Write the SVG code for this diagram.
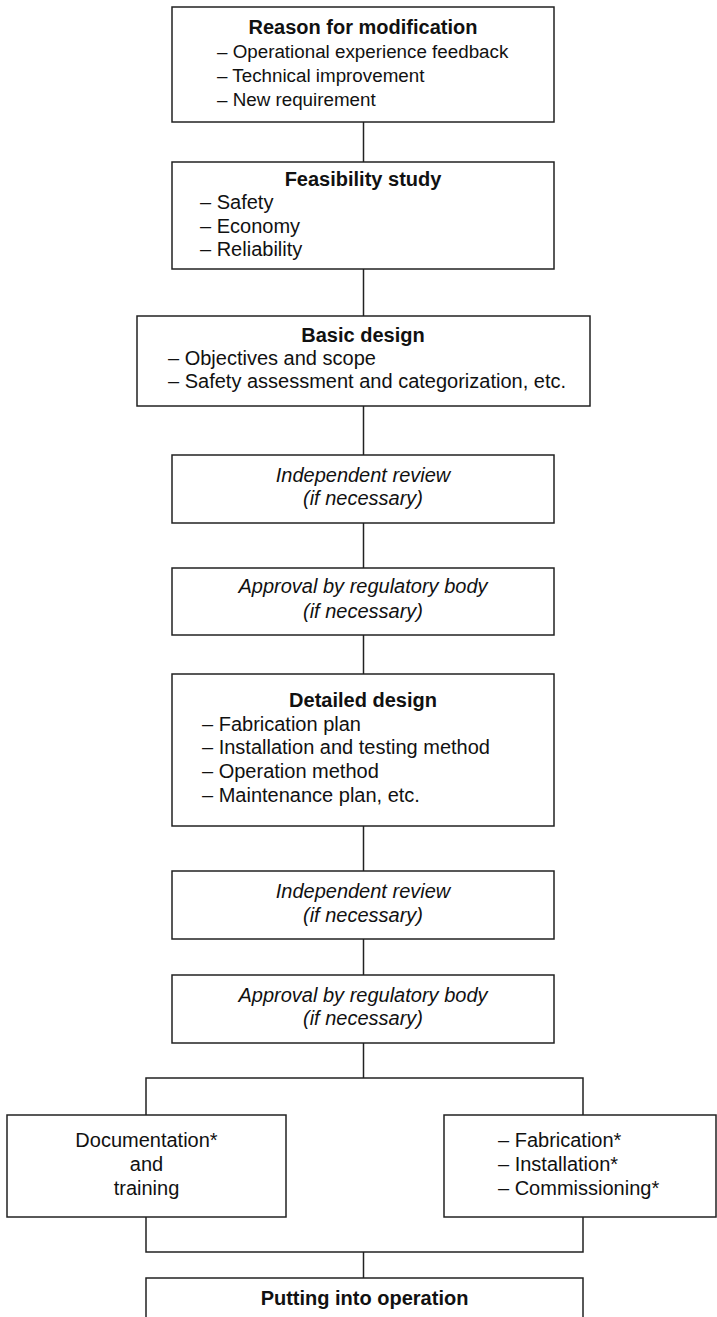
<svg xmlns="http://www.w3.org/2000/svg" width="717" height="1317" viewBox="0 0 717 1317">
<style>
.box{fill:#fff;stroke:#222;stroke-width:1.5}
.conn{fill:none;stroke:#222;stroke-width:1.5}
text{font-family:"Liberation Sans",Arial,sans-serif;font-size:20px;fill:#111}
.b{font-weight:bold}
.i{font-style:italic}
.c{text-anchor:middle}
.s{font-size:18.8px}
</style>
<rect width="717" height="1317" fill="#fff"/>
<g id="connectors">
<line class="conn" x1="363.5" y1="122" x2="363.5" y2="162"/>
<line class="conn" x1="363.5" y1="269" x2="363.5" y2="316"/>
<line class="conn" x1="363.5" y1="406" x2="363.5" y2="455"/>
<line class="conn" x1="363.5" y1="523" x2="363.5" y2="568"/>
<line class="conn" x1="363.5" y1="635" x2="363.5" y2="674"/>
<line class="conn" x1="363.5" y1="826" x2="363.5" y2="871"/>
<line class="conn" x1="363.5" y1="939" x2="363.5" y2="975"/>
<line class="conn" x1="363.5" y1="1043" x2="363.5" y2="1078"/>
<polyline class="conn" points="146,1115 146,1078 583,1078 583,1115"/>
<polyline class="conn" points="146,1217 146,1252 583,1252 583,1217"/>
<line class="conn" x1="363.5" y1="1252" x2="363.5" y2="1278"/>
</g>
<g id="reason">
<rect class="box" x="172" y="7" width="382" height="115"/>
<text class="b c" x="363" y="34">Reason for modification</text>
<text class="s" x="217" y="58">– Operational experience feedback</text>
<text class="s" x="217" y="82">– Technical improvement</text>
<text class="s" x="217" y="106">– New requirement</text>
</g>
<g id="feasibility">
<rect class="box" x="172" y="162" width="382" height="107"/>
<text class="b c" x="363" y="186">Feasibility study</text>
<text x="200" y="209">– Safety</text>
<text x="200" y="233">– Economy</text>
<text x="200" y="256">– Reliability</text>
</g>
<g id="basic">
<rect class="box" x="137" y="316" width="453" height="90"/>
<text class="b c" x="363" y="342">Basic design</text>
<text x="168" y="365">– Objectives and scope</text>
<text x="168" y="388">– Safety assessment and categorization, etc.</text>
</g>
<g id="review1">
<rect class="box" x="172" y="455" width="382" height="68"/>
<text class="i c" x="363" y="482">Independent review</text>
<text class="i c" x="363" y="505">(if necessary)</text>
</g>
<g id="approval1">
<rect class="box" x="172" y="568" width="382" height="67"/>
<text class="i c" x="363" y="593">Approval by regulatory body</text>
<text class="i c" x="363" y="618">(if necessary)</text>
</g>
<g id="detailed">
<rect class="box" x="172" y="674" width="382" height="152"/>
<text class="b c" x="363" y="707">Detailed design</text>
<text x="202" y="731">– Fabrication plan</text>
<text x="202" y="754">– Installation and testing method</text>
<text x="202" y="778">– Operation method</text>
<text x="202" y="802">– Maintenance plan, etc.</text>
</g>
<g id="review2">
<rect class="box" x="172" y="871" width="382" height="68"/>
<text class="i c" x="363" y="898">Independent review</text>
<text class="i c" x="363" y="922">(if necessary)</text>
</g>
<g id="approval2">
<rect class="box" x="172" y="975" width="382" height="68"/>
<text class="i c" x="363" y="1002">Approval by regulatory body</text>
<text class="i c" x="363" y="1025">(if necessary)</text>
</g>
<g id="documentation">
<rect class="box" x="7" y="1115" width="279" height="102"/>
<text class="c" x="146.5" y="1147">Documentation*</text>
<text class="c" x="146.5" y="1171">and</text>
<text class="c" x="146.5" y="1195">training</text>
</g>
<g id="fabrication">
<rect class="box" x="444" y="1115" width="272" height="102"/>
<text x="498" y="1147">– Fabrication*</text>
<text x="498" y="1171">– Installation*</text>
<text x="498" y="1195">– Commissioning*</text>
</g>
<g id="operation">
<rect class="box" x="146" y="1278" width="437" height="60"/>
<text class="b c" x="364.5" y="1305">Putting into operation</text>
</g>
</svg>
